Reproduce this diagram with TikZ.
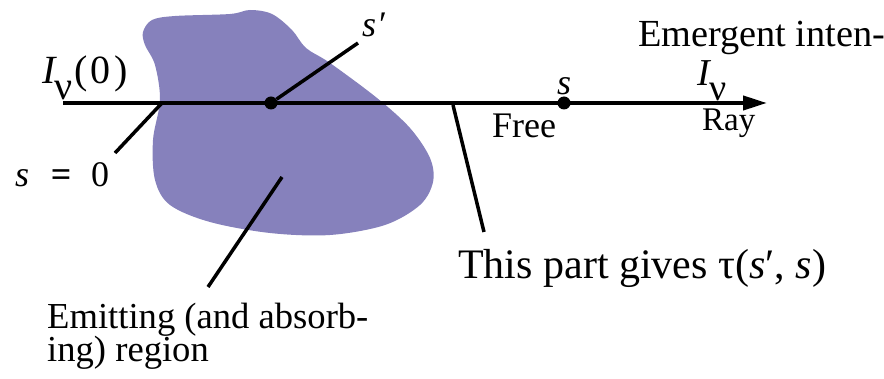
\documentclass[tikz,border=0pt]{standalone}
\usepackage{fontspec}
\setmainfont{Liberation Serif}
\usetikzlibrary{arrows.meta}
\definecolor{blobfill}{RGB}{134,129,188}
\begin{document}
\begin{tikzpicture}[x=1pt,y=-1pt,
  lab/.style={inner sep=0pt, anchor=base west, font=\fontsize{36}{40}\selectfont},
  biglab/.style={inner sep=0pt, anchor=base west, font=\fontsize{42}{46}\selectfont},
  raylab/.style={inner sep=0pt, anchor=base west, font=\fontsize{33}{36}\selectfont},
  lead/.style={line width=3.5pt},
  raydot/.style={circle, fill=black, inner sep=0pt, minimum size=13pt}]
\useasboundingbox (0,0) rectangle (884,379);

% emitting region
\fill[blobfill] plot[smooth cycle, tension=0.55] coordinates {
 (143,32) (152,20) (175,16) (230,14) (250,10) (272,14) (292,30) (306,48)
 (330,63) (377,98) (410,128) (430,158) (433,182) (420,205) (385,225)
 (330,235) (270,233) (210,222) (170,205) (155,180) (153,140) (160,100)
 (155,65) (145,45)};

% ray
\coordinate (raystart) at (63,103);
\coordinate (rayend) at (767,103);
\draw[line width=4pt, -{Triangle[length=24pt,width=14pt]}] (raystart) -- (rayend);

% points on the ray
\node[raydot] (sp) at (271,103) {};
\node[raydot] (sdot) at (564,103) {};
\coordinate (s0) at (162,103);
\coordinate (tauon) at (453,105);
\coordinate (emitin) at (282,177);

% labels
\node[lab, font=\fontsize{40}{44}\selectfont] (iv0) at (42,84)
  {\textit{I}\kern-0.06em\raisebox{-0.4em}{ν}\kern0.04em(\kern0.08em0\kern0.08em)};
\node[lab] (s0lab) at (15,187) {\textit{s}\hspace{0.6em}{\bfseries =}\hspace{0.55em}0};
\node[lab] (splab) at (362,37) {\textit{s}\kern0.08em′};
\node[lab] (slab) at (557,95) {\textit{s}};
\node[lab] (free) at (492,138) {Free};
\node[raylab] (ray) at (702,131) {Ray};
\node[lab, font=\fontsize{38}{40}\selectfont] (iv) at (697,86)
  {\textit{I}\kern-0.06em\raisebox{-0.38em}{ν}};
\node[lab, font=\fontsize{38.3}{42}\selectfont] (emerg) at (638,47) {Emergent inten-};
\node[lab, font=\fontsize{36.6}{40}\selectfont] (emit1) at (47,329) {Emitting (and absorb-};
\node[lab, font=\fontsize{36.6}{40}\selectfont] (emit2) at (47,362) {ing) region};
\node[biglab] (tau) at (458,279) {This part gives τ(\textit{s}′, \textit{s})};

% leaders
\coordinate (spend) at (358,43);
\coordinate (s0end) at (115,153);
\coordinate (emitend) at (208,287);
\coordinate (tauend) at (484,232);
\draw[lead] (sp) -- (spend);
\draw[lead] (s0) -- (s0end);
\draw[lead] (emitin) -- (emitend);
\draw[lead] (tauon) -- (tauend);
\end{tikzpicture}
\end{document}
